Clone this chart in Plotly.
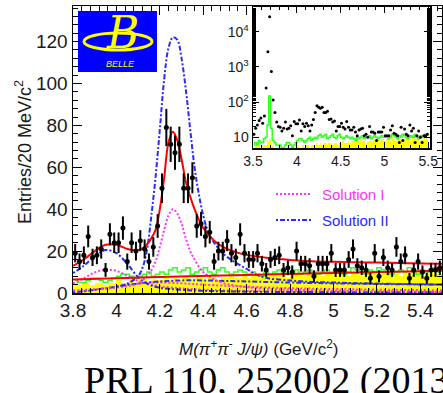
import plotly.graph_objects as go

W, H = 443, 393


def px(x):
    return x / W


def py(y):
    return 1 - y / H


# ---------------- data ----------------
# bin centres (20 MeV bins)
mass_all = [round(3.51 + 0.02 * i, 2) for i in range(100)]
mass_main = mass_all[15:]

# events in the signal region (3.81 ... 5.49 GeV)
events_main = [19, 15, 18, 27, 17, 18, 21, 11, 28, 24,
               24, 31, 15, 24, 20, 25, 21, 15, 22, 32,
               50, 79, 71, 67, 71, 50, 50, 55, 32, 33,
               27, 29, 15, 20, 20, 25, 19, 17, 28, 19,
               16, 16, 19, 14, 11, 16, 17, 18, 11, 12,
               10, 20, 14, 14, 13, 8, 14, 14, 14, 19,
               11, 11, 11, 16, 21, 13, 12, 11, 7, 19,
               8, 17, 12, 11, 22, 15, 18, 7, 11, 15,
               10, 7, 11, 11, 12]
# extra low-mass bins shown only in the inset (3.51 ... 3.79 GeV)
events_low = [12, 18, 22, 30, 35, 25, 40, 250, 2700, 27000, 740, 114, 50, 27, 20]
events_all = events_low + events_main

# sideband histograms (3.51 ... 5.49 GeV)
green_sb = [6, 7, 6, 8, 7, 7, 9,
            10, 22, 150, 18, 8, 7, 6, 6,
            6, 5, 5, 6, 7, 7, 6, 5, 6, 7, 8, 9, 9, 8, 7, 8, 9, 10, 8, 9,
            10, 9, 11, 12, 10, 11, 12, 9, 10, 11, 12, 10, 9, 11, 12, 10, 9, 10, 11, 10,
            9, 10, 9, 8, 10, 9, 10, 11, 9, 10, 10, 11, 9, 10, 11, 10, 9, 10, 11, 10,
            10, 11, 9, 10, 12, 11, 10, 9, 11, 10, 12, 11, 10, 9, 10, 11, 10, 12, 10, 9,
            11, 10, 11, 12, 10]
yellow_sb = [5, 6, 5, 6, 5, 6, 6,
             6, 8, 9, 7, 6, 5, 5, 5,
             5, 4, 5, 5, 4, 5, 5, 4, 5, 5, 6, 5, 5, 6, 5, 6, 6, 5, 6, 6,
             6, 7, 6, 7, 6, 7, 7, 6, 7, 7, 6, 7, 7, 6, 7, 7, 8, 7, 7, 8,
             7, 8, 8, 7, 8, 8, 9, 8, 8, 7, 8, 9, 8, 8, 9, 8, 9, 8, 9, 9,
             8, 9, 9, 8, 10, 9, 8, 9, 10, 9, 8, 9, 10, 9, 9, 8, 10, 9, 9, 10,
             8, 9, 10, 9, 9]

# fit curves
fit_x = [3.80, 3.85, 3.90, 3.95, 4.00, 4.05, 4.10, 4.13, 4.16, 4.18, 4.20, 4.22,
         4.24, 4.26, 4.28, 4.30, 4.32, 4.34, 4.36, 4.38, 4.40, 4.45, 4.50, 4.55,
         4.60, 4.70, 4.80, 4.90, 5.00, 5.10, 5.20, 5.30, 5.40, 5.50]
fit_total = [13, 16, 20, 23, 23, 21, 20.5, 22, 26, 30, 40, 55,
             72, 77, 73, 64, 53, 46, 40, 35, 31, 25, 21.5, 19.5,
             18.2, 16.7, 15.8, 15.2, 14.9, 14.7, 14.5, 14.3, 14.1, 14.0]
bkg_x = [3.80, 4.20, 4.60, 5.00, 5.50]
bkg_fit = [6.5, 7.6, 8.6, 9.5, 10.6]

sol1_y4260_x = [3.80, 3.90, 4.00, 4.05, 4.10, 4.13, 4.155, 4.18, 4.20, 4.22, 4.24, 4.26,
                4.28, 4.30, 4.32, 4.34, 4.36, 4.38, 4.40, 4.42, 4.45, 4.50, 4.55, 4.60,
                4.70, 4.80, 5.00, 5.50]
sol1_y4260 = [1.2, 1.8, 2.6, 3.3, 4.5, 7, 10, 15, 22, 30, 37, 40,
              38, 33, 26, 20, 16, 12.5, 10, 8.5, 6.5, 4.5, 3.5, 2.8,
              2.0, 1.6, 1.1, 0.6]
sol1_y4008_x = [3.80, 3.85, 3.90, 3.95, 4.00, 4.05, 4.10, 4.15, 4.20, 4.30, 4.40, 4.60, 5.00, 5.50]
sol1_y4008 = [4.5, 7, 9.8, 11.2, 10.5, 8.2, 5.8, 4.2, 3.2, 2.2, 1.6, 1.0, 0.6, 0.4]
sol1_int_x = [3.80, 3.90, 4.00, 4.10, 4.20, 4.30, 4.40, 4.60, 4.80, 5.00, 5.20, 5.50]
sol1_int = [0.3, 1.5, 3.0, 4.5, 5.0, 4.6, 4.0, 3.0, 2.3, 1.9, 1.6, 1.3]

sol2_y4260_x = [4.00, 4.05, 4.10, 4.12, 4.14, 4.16, 4.18, 4.20, 4.22, 4.24, 4.26, 4.28,
                4.30, 4.32, 4.34, 4.36, 4.38, 4.40, 4.42, 4.45, 4.50, 4.55, 4.60, 4.65,
                4.70, 4.80, 4.90, 5.00, 5.20, 5.50]
sol2_y4260 = [3, 4.5, 8, 12, 20, 36, 55, 78, 102, 117, 122, 121,
              112, 97, 78, 60, 47, 37, 30, 24, 18, 14.5, 11.5, 8.5,
              7, 6, 5.3, 5, 4.5, 4]
sol2_y4008_x = [3.80, 3.85, 3.90, 3.95, 4.00, 4.05, 4.10, 4.15, 4.20, 4.30, 4.50, 5.00, 5.50]
sol2_y4008 = [9.5, 13, 17.5, 20.5, 19, 14, 7.5, 4, 2.5, 1.5, 0.8, 0.4, 0.3]
sol2_int_x = [3.80, 3.90, 4.00, 4.10, 4.20, 4.30, 4.40, 4.60, 4.80, 5.00, 5.20, 5.50]
sol2_int = [0.3, 1.5, 3.0, 4.5, 5.5, 6.0, 6.0, 5.5, 5.0, 4.6, 4.3, 4.0]

x_ticks = [3.8, 4.0, 4.2, 4.4, 4.6, 4.8, 5.0, 5.2, 5.4]
x_tick_labels = ["3.8", "4", "4.2", "4.4", "4.6", "4.8", "5", "5.2", "5.4"]
y_ticks = [0, 20, 40, 60, 80, 100, 120]
inset_x_ticks = [3.5, 4, 4.5, 5, 5.5]
inset_y_ticks = [10, 100, 1000, 10000]
inset_y_labels = ["10", "10<sup>2</sup>", "10<sup>3</sup>", "10<sup>4</sup>"]

# ---------------- colours ----------------
YELLOW = "#ffff00"
GREEN = "#33ff22"
RED = "#ff0000"
MAGENTA = "#ff33ff"
BLUE = "#2a2aff"
FONT = "Liberation Sans, Arial, sans-serif"
DOT = "2px,2px"
DASHDOT = "2px,2px,5px,2px"

fig = go.Figure()

# ---- main panel ----
fig.add_trace(go.Bar(x=mass_main, y=yellow_sb[15:], width=0.02,
                     marker=dict(color=YELLOW, line=dict(width=0)),
                     xaxis="x", yaxis="y", showlegend=False))
fig.add_trace(go.Scatter(x=mass_main, y=green_sb[15:], mode="lines",
                         line=dict(color=GREEN, width=1.5, shape="hvh"),
                         xaxis="x", yaxis="y", showlegend=False))
for cx, cy, col, dash in [
    (sol1_int_x, sol1_int, MAGENTA, DOT),
    (sol2_int_x, sol2_int, BLUE, DASHDOT),
    (sol1_y4008_x, sol1_y4008, MAGENTA, DOT),
    (sol2_y4008_x, sol2_y4008, BLUE, DASHDOT),
    (sol1_y4260_x, sol1_y4260, MAGENTA, DOT),
    (sol2_y4260_x, sol2_y4260, BLUE, DASHDOT),
]:
    fig.add_trace(go.Scatter(x=cx, y=cy, mode="lines",
                             line=dict(color=col, width=2, dash=dash, shape="spline"),
                             xaxis="x", yaxis="y", showlegend=False))
fig.add_trace(go.Scatter(x=bkg_x, y=bkg_fit, mode="lines",
                         line=dict(color=RED, width=2, shape="spline"),
                         xaxis="x", yaxis="y", showlegend=False))
fig.add_trace(go.Scatter(x=fit_x, y=fit_total, mode="lines",
                         line=dict(color=RED, width=2, shape="spline"),
                         xaxis="x", yaxis="y", showlegend=False))
fig.add_trace(go.Scatter(x=mass_main, y=events_main, mode="markers",
                         marker=dict(color="black", size=5),
                         error_y=dict(type="sqrt", color="black", thickness=2, width=0),
                         xaxis="x", yaxis="y", showlegend=False))

# ---- inset ----
fig.add_trace(go.Bar(x=mass_all, y=yellow_sb, width=0.02,
                     marker=dict(color=YELLOW, line=dict(width=0)),
                     xaxis="x2", yaxis="y2", showlegend=False))
fig.add_trace(go.Scatter(x=mass_all, y=green_sb, mode="lines",
                         line=dict(color=GREEN, width=1.5, shape="hvh"),
                         xaxis="x2", yaxis="y2", showlegend=False))
fig.add_trace(go.Scatter(x=mass_all, y=events_all, mode="markers",
                         marker=dict(color="black", size=3),
                         xaxis="x2", yaxis="y2", showlegend=False))

axis_common = dict(showline=True, linecolor="black", linewidth=1.5, mirror="ticks",
                   ticks="inside", tickcolor="black", showgrid=False, zeroline=False,
                   automargin=False)

fig.update_layout(
    width=W, height=H, autosize=False,
    margin=dict(l=0, r=0, t=0, b=0, pad=0),
    paper_bgcolor="white", plot_bgcolor="white",
    barmode="overlay", bargap=0, hovermode=False,
    font=dict(family=FONT, color="#1a1a1a"),
    xaxis=dict(domain=[px(73), px(442)], range=[3.8, 5.5], anchor="y",
               tickvals=x_ticks, ticktext=x_tick_labels, ticklen=9, tickwidth=1,
               minor=dict(dtick=0.04, tick0=3.8, ticks="inside", ticklen=5, tickcolor="black"),
               tickfont=dict(size=19), **axis_common),
    yaxis=dict(domain=[py(293), py(6)], range=[0, 137], anchor="x",
               tickvals=y_ticks, ticklen=9, tickwidth=1,
               minor=dict(dtick=4, tick0=0, ticks="inside", ticklen=5, tickcolor="black"),
               tickfont=dict(size=19), **axis_common),
    xaxis2=dict(domain=[px(253), px(430)], range=[3.5, 5.52], anchor="y2",
                tickvals=inset_x_ticks, ticklen=6,
                minor=dict(dtick=0.1, tick0=3.5, ticks="inside", ticklen=3, tickcolor="black"),
                tickfont=dict(size=14), **axis_common),
    yaxis2=dict(domain=[py(148), py(7)], type="log", range=[0.69, 4.71], anchor="x2",
                tickvals=inset_y_ticks, ticktext=inset_y_labels, ticklen=6,
                minor=dict(ticks="inside", ticklen=3, tickcolor="black"),
                tickfont=dict(size=14), **axis_common),
)

shapes = [
    # Belle logo
    dict(type="rect", xref="paper", yref="paper", x0=px(78), x1=px(157), y0=py(72), y1=py(11),
         fillcolor="#0000ff", line=dict(width=0), layer="above"),
    dict(type="circle", xref="paper", yref="paper", x0=px(84), x1=px(152), y0=py(50), y1=py(33),
         line=dict(color=YELLOW, width=3), layer="above"),
    # legend samples
    dict(type="line", xref="paper", yref="paper", x0=px(276), x1=px(312), y0=py(194), y1=py(194),
         line=dict(color=MAGENTA, width=2, dash=DOT)),
    dict(type="line", xref="paper", yref="paper", x0=px(276), x1=px(312), y0=py(220), y1=py(220),
         line=dict(color=BLUE, width=2, dash=DASHDOT)),
]
fig.update_layout(shapes=shapes)

annotations = [
    dict(text="B", x=px(122), y=py(32), xanchor="center",
         font=dict(family="DejaVu Serif", size=44, color=YELLOW, style="italic")),
    dict(text="BELLE", x=px(120), y=py(64), xanchor="center",
         font=dict(family=FONT, size=9, color=YELLOW, style="italic")),
    dict(text="Solution I", x=px(320), y=py(194), xanchor="left",
         font=dict(family=FONT, size=15, color=MAGENTA)),
    dict(text="Solution II", x=px(320), y=py(220), xanchor="left",
         font=dict(family=FONT, size=15, color=BLUE)),
    dict(text="Entries/20 MeV/c<sup>2</sup>", x=px(23), y=py(152), xanchor="center", textangle=-90,
         font=dict(family=FONT, size=18, color="#1a1a1a")),
    dict(text="<i>M(π<sup>+</sup>π<sup>-</sup> J/ψ)</i> (GeV/c<sup>2</sup>)", x=px(258), y=py(348),
         xanchor="center", font=dict(family=FONT, size=17, color="#1a1a1a")),
    dict(text="PRL 110, 252002 (2013)", x=px(82), y=py(380), xanchor="left",
         font=dict(family="Liberation Serif, Times New Roman, serif", size=38, color="black")),
]
for a in annotations:
    a.update(xref="paper", yref="paper", showarrow=False, yanchor="middle")
fig.update_layout(annotations=annotations)

fig.write_html("out.html", config={"displayModeBar": False, "staticPlot": True},
               post_script="document.body.style.margin='0px';document.body.style.overflow='hidden';")
